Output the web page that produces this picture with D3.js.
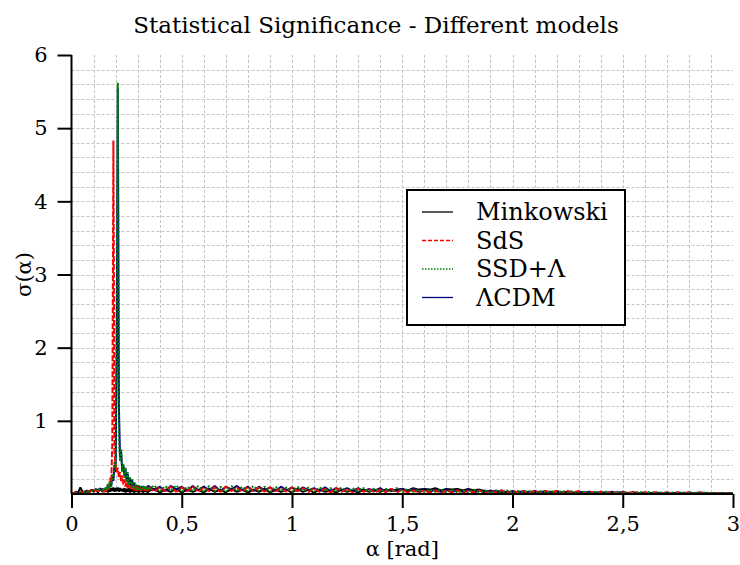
<!DOCTYPE html>
<html>
<head>
<meta charset="utf-8">
<script src="https://cdn.jsdelivr.net/npm/d3@7"></script>
<style>
  body { margin: 0; background: #fff; }
  text { font-family: "DejaVu Serif", serif; fill: #000; }
</style>
</head>
<body>
<div class="canvas"></div>
<script>
// sample positions (alpha, rad): coarse start, fine around the peak, coarse tail
const alphaLow = d3.range(0, 0.145, 0.01);        // 15 points
const alphaPeak = d3.range(0.15, 0.3475, 0.005);  // 40 points
const alphaTail = d3.range(0.35, 3.0125, 0.025);  // 107 points
const alpha = alphaLow.concat(alphaPeak, alphaTail);

// sigma(alpha), same order as alpha
const minkowski = [
  0.00,0.01,0.03,0.02,0.09,0.03,0.02,0.05,0.02,0.06,0.03,0.07,0.02,0.08,0.03,
  0.07,0.03,0.08,0.02,0.09,0.03,0.08,0.04,0.09,0.03,0.08,0.04,0.09,0.03,0.08,0.04,0.07,0.03,0.08,0.02,
  0.07,0.03,0.08,0.02,0.07,0.03,0.06,0.02,0.07,0.03,0.06,0.02,0.07,0.03,0.06,0.02,0.07,0.03,0.06,0.02,
  0.04,0.07,0.02,0.06,0.03,0.07,0.02,0.06,0.03,0.06,
  0.02,0.07,0.03,0.06,0.02,0.07,0.03,0.06,0.02,0.06,
  0.03,0.07,0.02,0.06,0.03,0.06,0.02,0.07,0.03,0.06,
  0.02,0.06,0.03,0.05,0.02,0.06,0.03,0.05,0.02,0.06,
  0.03,0.06,0.03,0.06,0.04,0.06,0.07,0.05,0.08,0.06,
  0.07,0.06,0.08,0.05,0.07,0.06,0.07,0.05,0.07,0.05,
  0.06,0.04,0.03,0.04,0.02,0.03,0.02,0.03,0.02,0.03,
  0.02,0.03,0.01,0.03,0.02,0.02,0.01,0.02,0.01,0.02,
  0.01,0.02,0.01,0.02,0.01,0.02,0.01,0.01,0.01,0.01,
  0.01,0.01,0.01,0.01,0.01,0.01,0.01,0.01,0.01,0.01,
  0.01,0.01,0.01,0.01,0.01,0.01,0.00
];
const sds = [
  0.00,0.01,0.02,0.02,0.03,0.02,0.03,0.04,0.03,0.05,0.04,0.05,0.04,0.06,0.05,
  0.03,0.08,0.04,0.12,0.06,0.22,0.15,0.70,4.83,0.55,0.40,0.30,0.36,0.22,0.30,0.17,0.25,0.13,0.20,0.10,
  0.17,0.08,0.14,0.07,0.12,0.06,0.11,0.05,0.10,0.04,0.11,0.05,0.10,0.04,0.10,0.05,0.09,0.04,0.10,0.04,
  0.10,0.03,0.09,0.04,0.10,0.03,0.09,0.04,0.10,0.03,
  0.09,0.04,0.09,0.03,0.10,0.04,0.09,0.03,0.10,0.04,
  0.09,0.03,0.09,0.04,0.08,0.03,0.09,0.04,0.08,0.03,
  0.08,0.03,0.07,0.02,0.08,0.03,0.07,0.02,0.07,0.03,
  0.07,0.02,0.06,0.03,0.07,0.02,0.06,0.02,0.05,0.02,
  0.05,0.02,0.05,0.01,0.05,0.02,0.05,0.01,0.05,0.02,
  0.05,0.01,0.04,0.02,0.05,0.01,0.04,0.02,0.04,0.01,
  0.04,0.01,0.04,0.02,0.04,0.01,0.04,0.02,0.04,0.01,
  0.03,0.01,0.03,0.01,0.03,0.01,0.02,0.01,0.03,0.01,
  0.02,0.01,0.02,0.01,0.02,0.01,0.02,0.01,0.02,0.01,
  0.02,0.01,0.01,0.01,0.01,0.01,0.01
];
const ssdLambda = [
  0.00,0.01,0.01,0.02,0.02,0.02,0.03,0.03,0.03,0.04,0.04,0.06,0.05,0.07,0.06,
  0.04,0.10,0.05,0.14,0.07,0.18,0.10,0.28,0.20,0.45,0.35,2.33,5.62,0.80,0.45,0.62,0.30,0.42,0.22,0.36,
  0.16,0.30,0.12,0.24,0.10,0.20,0.07,0.16,0.06,0.13,0.05,0.12,0.06,0.11,0.05,0.12,0.06,0.11,0.05,0.10,
  0.05,0.12,0.03,0.11,0.04,0.12,0.03,0.10,0.04,0.11,
  0.03,0.11,0.04,0.10,0.03,0.11,0.04,0.10,0.03,0.11,
  0.04,0.10,0.03,0.10,0.04,0.09,0.03,0.10,0.04,0.09,
  0.03,0.09,0.04,0.08,0.03,0.09,0.03,0.08,0.03,0.08,
  0.03,0.08,0.02,0.07,0.03,0.08,0.02,0.07,0.03,0.06,
  0.02,0.06,0.03,0.06,0.02,0.06,0.02,0.05,0.02,0.06,
  0.02,0.05,0.01,0.05,0.02,0.05,0.01,0.04,0.02,0.04,
  0.01,0.04,0.02,0.04,0.01,0.04,0.02,0.04,0.01,0.03,
  0.01,0.03,0.01,0.03,0.01,0.03,0.01,0.02,0.01,0.03,
  0.01,0.03,0.01,0.02,0.01,0.02,0.01,0.02,0.01,0.02,
  0.01,0.02,0.01,0.01,0.01,0.01,0.01
];
const lambdaCDM = [
  0.00,0.01,0.02,0.02,0.02,0.03,0.03,0.03,0.04,0.04,0.05,0.05,0.06,0.06,0.07,
  0.04,0.09,0.05,0.13,0.07,0.16,0.10,0.25,0.18,0.40,0.30,2.00,5.55,1.21,0.50,0.58,0.32,0.40,0.24,0.34,
  0.17,0.28,0.13,0.22,0.10,0.19,0.08,0.15,0.06,0.12,0.06,0.11,0.06,0.10,0.05,0.11,0.06,0.10,0.05,0.10,
  0.11,0.05,0.10,0.04,0.11,0.06,0.10,0.04,0.11,0.05,
  0.10,0.05,0.11,0.04,0.10,0.06,0.11,0.05,0.10,0.04,
  0.10,0.05,0.09,0.04,0.10,0.05,0.09,0.04,0.09,0.05,
  0.08,0.04,0.09,0.04,0.08,0.05,0.08,0.04,0.08,0.04,
  0.07,0.04,0.08,0.03,0.07,0.04,0.07,0.03,0.07,0.03,
  0.06,0.03,0.06,0.03,0.06,0.03,0.05,0.03,0.06,0.02,
  0.05,0.02,0.05,0.02,0.05,0.02,0.04,0.02,0.04,0.02,
  0.04,0.02,0.04,0.01,0.04,0.02,0.03,0.01,0.03,0.02,
  0.03,0.01,0.03,0.01,0.03,0.01,0.03,0.01,0.02,0.01,
  0.02,0.01,0.02,0.01,0.02,0.01,0.02,0.01,0.02,0.01,
  0.02,0.01,0.01,0.01,0.01,0.01,0.01
];

const seriesNames = ['Minkowski', 'SdS', 'SSD+Λ', 'ΛCDM'];
const xTickValues = [0, 0.5, 1, 1.5, 2, 2.5, 3];
const xTickLabels = ['0', '0,5', '1', '1,5', '2', '2,5', '3'];
const yTickValues = [1, 2, 3, 4, 5, 6];
const yTickLabels = ['1', '2', '3', '4', '5', '6'];

const width = 740, height = 565;
const margin = {top: 55, right: 7, bottom: 71, left: 71.5};

const svg = d3.select('.canvas').append('svg')
    .attr('width', width)
    .attr('height', height);

const x = d3.scaleLinear().domain([0, 3]).range([margin.left, width - margin.right]);
const y = d3.scaleLinear().domain([0, 6]).range([height - margin.bottom, margin.top]);

// dashed grid at the minor ticks
const xMinor = d3.range(1, 30).map(i => i / 10);
const yMinor = d3.range(1, 30).map(i => i / 5);
const grid = svg.append('g')
    .attr('stroke', '#c4c4c4')
    .attr('stroke-width', 1)
    .attr('stroke-dasharray', '3,2');
grid.selectAll('.gx').data(xMinor).enter().append('line')
    .attr('x1', d => Math.round(x(d)) + 0.5).attr('x2', d => Math.round(x(d)) + 0.5)
    .attr('y1', y(6)).attr('y2', y(0));
grid.selectAll('.gy').data(yMinor).enter().append('line')
    .attr('y1', d => Math.round(y(d)) + 0.5).attr('y2', d => Math.round(y(d)) + 0.5)
    .attr('x1', x(0)).attr('x2', x(3));

// curves (black underneath, green dotted on top)
const line = d3.line()
    .x((d, i) => x(alpha[i]))
    .y(d => y(d));

const series = [
  {name: seriesNames[0], values: minkowski, color: '#000000', dash: null},
  {name: seriesNames[3], values: lambdaCDM, color: '#000080', dash: null},
  {name: seriesNames[1], values: sds, color: '#ff0000', dash: '6,2'},
  {name: seriesNames[2], values: ssdLambda, color: '#008000', dash: '2,2'}
];

svg.append('g').selectAll('path')
    .data(series)
    .enter().append('path')
    .attr('d', d => line(d.values))
    .attr('fill', 'none')
    .attr('stroke', d => d.color)
    .attr('stroke-width', 2)
    .attr('stroke-linejoin', 'bevel')
    .attr('stroke-dasharray', d => d.dash);

// axes
const xAxis = d3.axisBottom(x)
    .tickValues(xTickValues)
    .tickFormat((d, i) => xTickLabels[i])
    .tickSize(14)
    .tickPadding(8);
const xAxisMinor = d3.axisBottom(x)
    .tickValues(xMinor.filter(v => Math.abs(v * 2 - Math.round(v * 2)) > 1e-6))
    .tickFormat('')
    .tickSize(8);
const yAxis = d3.axisLeft(y)
    .tickValues(yTickValues)
    .tickFormat((d, i) => yTickLabels[i])
    .tickSize(14)
    .tickPadding(10);
const yAxisMinor = d3.axisLeft(y)
    .tickValues(yMinor.filter(v => Math.abs(v - Math.round(v)) > 1e-6))
    .tickFormat('')
    .tickSize(8);

const xg = svg.append('g').attr('transform', `translate(0,${y(0)})`);
xg.call(xAxisMinor);
xg.call(xAxis);
const yg = svg.append('g').attr('transform', `translate(${x(0)},0)`);
yg.call(yAxisMinor);
yg.call(yAxis);

svg.selectAll('.domain').attr('d', null);
svg.selectAll('.tick line').attr('stroke-width', 2);
svg.selectAll('.tick text').attr('font-size', 21).attr('font-family', '"DejaVu Serif", serif');

// plain axis lines
svg.append('line').attr('x1', x(0)).attr('x2', x(3)).attr('y1', y(0)).attr('y2', y(0))
    .attr('stroke', '#000').attr('stroke-width', 2);
svg.append('line').attr('x1', x(0)).attr('x2', x(0)).attr('y1', y(0)).attr('y2', y(6))
    .attr('stroke', '#000').attr('stroke-width', 2);

// titles
svg.append('text')
    .attr('x', 376).attr('y', 33)
    .attr('text-anchor', 'middle')
    .attr('font-size', 23)
    .text('Statistical Significance - Different models');
svg.append('text')
    .attr('x', (x(0) + x(3)) / 2).attr('y', 556)
    .attr('text-anchor', 'middle')
    .attr('font-size', 21)
    .text('α [rad]');
svg.append('text')
    .attr('transform', `translate(31,${(y(0) + y(6)) / 2}) rotate(-90)`)
    .attr('text-anchor', 'middle')
    .attr('font-size', 21)
    .text('σ(α)');

// legend
const legend = svg.append('g');
legend.append('rect')
    .attr('x', 407).attr('y', 190)
    .attr('width', 218).attr('height', 135)
    .attr('fill', '#fff')
    .attr('stroke', '#000')
    .attr('stroke-width', 2);

const legendItems = [
  {name: seriesNames[0], color: '#000000', dash: null},
  {name: seriesNames[1], color: '#ff0000', dash: '4,2'},
  {name: seriesNames[2], color: '#008000', dash: '1.5,1.5'},
  {name: seriesNames[3], color: '#000080', dash: null}
];
const rows = legend.selectAll('.row')
    .data(legendItems)
    .enter().append('g')
    .attr('transform', (d, i) => `translate(0,${212 + i * 28.5})`);
rows.append('line')
    .attr('x1', 422).attr('x2', 453)
    .attr('stroke', d => d.color)
    .attr('stroke-width', 1.3)
    .attr('stroke-dasharray', d => d.dash);
rows.append('text')
    .attr('x', 476).attr('y', 8)
    .attr('font-size', 24)
    .text(d => d.name);
</script>
</body>
</html>
